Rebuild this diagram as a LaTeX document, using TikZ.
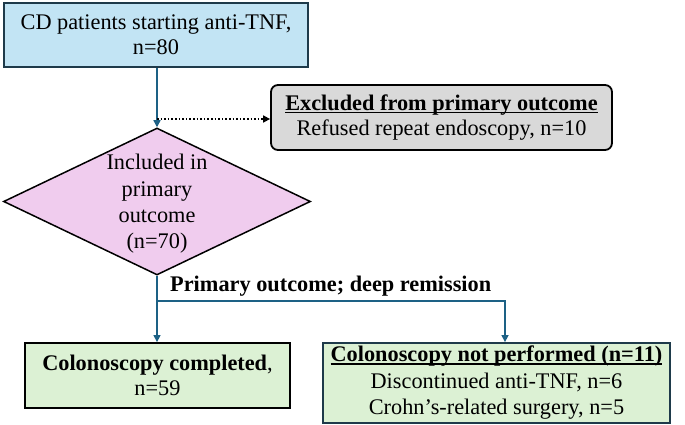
\documentclass[tikz,border=0pt]{standalone}
\usepackage{fontspec}
\setmainfont{Liberation Serif}
\usetikzlibrary{arrows.meta,shapes.geometric}
\definecolor{topfill}{HTML}{C2E4F4}
\definecolor{darkedge}{HTML}{1E3A4A}
\definecolor{flow}{HTML}{1D6185}
\definecolor{grayfill}{HTML}{D9D9D9}
\definecolor{pinkfill}{HTML}{F0CCEE}
\definecolor{greenfill}{HTML}{DCF1D4}
\newcommand\myul[1]{\setbox0\hbox{#1}\rlap{\rule[-2.6pt]{\wd0}{1.3pt}}\box0}
\begin{document}
\begin{tikzpicture}[x=1pt,y=-1pt,
  font=\fontsize{22.3}{25}\selectfont,
  boxnode/.style={draw, line width=1.8pt, inner sep=0pt, align=center},
  flowline/.style={draw=flow, line width=1.4pt},
  tip/.style={-{Triangle[length=7pt,width=7pt]}}]
\useasboundingbox (0,0) rectangle (685,425);
% boxes
\node[boxnode, draw=darkedge, fill=topfill, minimum width=304pt, minimum height=64pt] (top) at (156,35)
  {CD patients starting anti-TNF,\\n=80};
\node[boxnode, draw=black, fill=grayfill, rounded corners=7pt, minimum width=341pt, minimum height=65pt] (excl) at (441.5,117.5)
  {\myul{\textbf{Excluded from primary outcome}}\\Refused repeat endoscopy, n=10};
\node[draw=black, line width=1.5pt, fill=pinkfill, diamond, minimum width=307pt, minimum height=147pt, inner sep=0pt] (dia) at (157,201.5) {};
\node[align=center, font=\fontsize{22.3}{26.3}\selectfont] (diatext) at (157,204) {Included in\\primary\\outcome\\(n=70)};
\node[boxnode, draw=black, fill=greenfill, minimum width=265pt, minimum height=65pt] (done) at (157.5,375.5)
  {\textbf{Colonoscopy completed},\\n=59};
\node[boxnode, draw=darkedge, fill=greenfill, minimum width=347pt, minimum height=80pt, font=\fontsize{22.3}{26.5}\selectfont] (notdone) at (496.5,383)
  {\myul{\textbf{Colonoscopy not performed (n=11)}}\\Discontinued anti-TNF, n=6\\Crohn’s-related surgery, n=5};
% connectors
\coordinate (split) at (157,119);
\coordinate (branch) at (157,301);
\draw[flowline, tip] (top.south -| dia.north) -- (dia.north);
\draw[black, line width=1.6pt, dotted, tip] (split) -- (excl.west |- split);
\draw[flowline] (dia.south) -- (branch);
\draw[flowline, tip] (branch) -- (done.north -| branch);
\draw[flowline, tip] (branch) -- (branch -| 505,0) -- (notdone.north -| 505,0);
\node[font=\fontsize{22.3}{25}\selectfont\bfseries, anchor=south west, inner sep=0pt] (lab) at (170,297) {Primary outcome; deep remission};
\end{tikzpicture}
\end{document}
